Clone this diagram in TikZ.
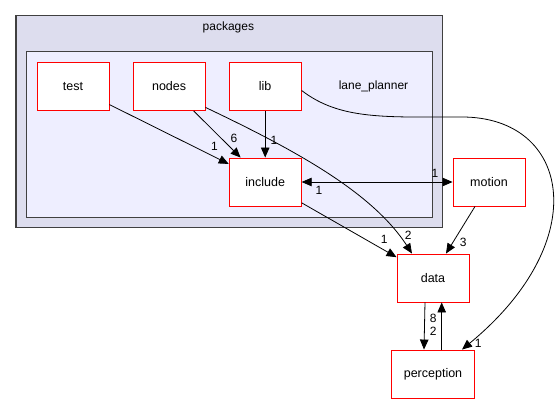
\documentclass[tikz,border=0pt]{standalone}
\usepackage{fontspec}
\setmainfont{Liberation Sans}
\usetikzlibrary{arrows.meta}
\definecolor{outerfill}{HTML}{DDDDEE}
\definecolor{innerfill}{HTML}{EEEEFF}
\definecolor{frame}{HTML}{404040}
\tikzset{
	dirbox/.style={draw=red, fill=white, line width=0.9pt, minimum width=72pt, minimum height=48pt, inner sep=0pt, font=\fontsize{12.5}{15}\selectfont},
	dep/.style={line width=0.8pt, -{Triangle[length=10pt,width=8.5pt]}},
	num/.style={inner sep=0pt, font=\fontsize{12}{14}\selectfont},
}
\begin{document}
\begin{tikzpicture}[x=1pt, y=-1pt]
			\useasboundingbox (0,0) rectangle (558,404);
			\filldraw[fill=outerfill, draw=frame, line width=1.3pt] (16,15.5) rectangle (442.3,227.7);
			\filldraw[fill=innerfill, draw=frame, line width=1.3pt] (26.7,51.7) rectangle (432.3,217.3);
			\node[num] (pkg)  at  (228.4, 27){packages};
			\node[num] (lane) at  (373.5, 86){lane\_planner};
			
			\node[dirbox] (test)   at  (73, 86.5){test};
			\node[dirbox] (nodes)  at  (169.1, 86.5){nodes};
			\node[dirbox] (lib)    at  (265.2, 86.5){lib};
			
			\node[dirbox] (incl)   at  (265.2, 182){include};
			\node[dirbox] (motion) at  (489, 182){motion};
			
			\node[dirbox] (data)   at  (433, 278){data};
			\node[dirbox, minimum width=83pt] (percep) at  (433, 374){perception};
			
			\draw[dep] (test) -- (incl);
			\draw[dep] (nodes) -- (incl);
			\draw[dep] (lib) -- (incl);
			\draw[dep] ([yshift=3.5pt]nodes.south east) .. controls (295,150) and (372,192) .. ([xshift=-21pt]data.north);
			\draw[dep] ([yshift=-4pt]lib.east) .. controls (340,120) and (385,117) .. (462,117)
				.. controls (570,117) and (595,240) .. ([xshift=29pt]percep.north);
			\draw[dep, {Triangle[length=10pt,width=8.5pt]}-{Triangle[length=10pt,width=8.5pt]}] (incl) -- (motion);
			\draw[dep] (incl) -- (data);
			\draw[dep] ([xshift=-14pt]motion.south) -- ([xshift=13pt]data.north);
			\draw[dep] ([xshift=-8pt]data.south) -- ([xshift=-9pt]percep.north);
			\draw[dep] ([xshift=8.7pt]percep.north) -- ([xshift=8.7pt]data.south);
			
			\node[num] (n1) at (214.5, 146.7){1};
			\node[num] (n2) at (234, 138.3){6};
			\node[num] (n3) at (273.9, 140){1};
			\node[num] (n4) at (319, 190){1};
			\node[num] (n5) at (435, 173.3){1};
			\node[num] (n6) at (384.3, 239.3){1};
			\node[num] (n7) at (408.3, 235){2};
			\node[num] (n8) at (463.3, 242.7){3};
			\node[num] (n9) at (478.3, 343.3){1};
			\node[num] (n10) at (433.3, 318){8};
			\node[num] (n11) at (433.3, 331){2};
		\end{tikzpicture}
\end{document}
